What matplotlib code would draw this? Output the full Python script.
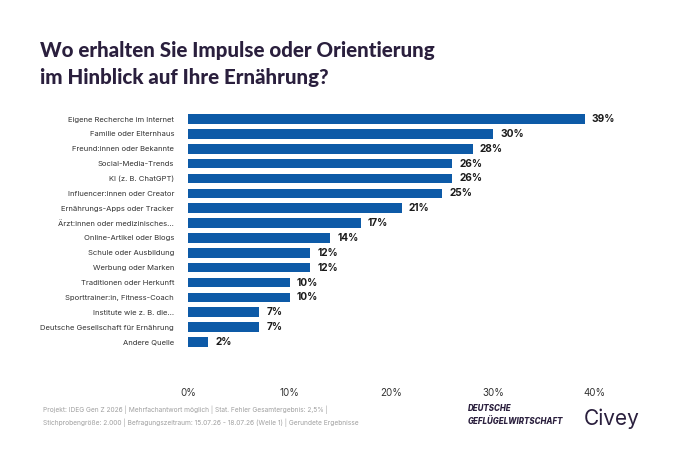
import numpy as np
import matplotlib.pyplot as plt

plt.rcParams['font.family'] = ['Inter', 'DejaVu Sans']

categories = ['Eigene Recherche im Internet', 'Familie oder Elternhaus',
              'Freund:innen oder Bekannte', 'Social-Media-Trends',
              'KI (z. B. ChatGPT)', 'Influencer:innen oder Creator',
              'Ernährungs-Apps oder Tracker', 'Ärzt:innen oder medizinisches...',
              'Online-Artikel oder Blogs', 'Schule oder Ausbildung',
              'Werbung oder Marken', 'Traditionen oder Herkunft',
              'Sporttrainer:in, Fitness-Coach', 'Institute wie z. B. die...',
              'Deutsche Gesellschaft für Ernährung', 'Andere Quelle']
values = [39, 30, 28, 26, 26, 25, 21, 17, 14, 12, 12, 10, 10, 7, 7, 2]
xticks = [0, 10, 20, 30, 40]

bar_color = '#0d5aa7'
text_dark = '#2a1f3d'

fig = plt.figure(figsize=(6.76, 4.5), dpi=100)
ax = fig.add_axes([0.278, 0.2236, 0.602, 0.5284])

y = np.arange(len(categories))
ax.barh(y, values, height=0.64, color=bar_color)
for yi, v in zip(y, values):
    ax.text(v + 0.7, yi, f'{v}%', va='center', ha='left', fontsize=7.3,
            fontweight='bold', color='#1a1a1a')

ax.set_ylim(len(categories) - 0.5, -0.5)
ax.set_xlim(0, 40)
ax.set_yticks(y)
ax.set_yticklabels(categories, fontsize=5.5, color='#333333')
ax.set_xticks(xticks)
ax.set_xticklabels([f'{t}%' for t in xticks], fontsize=7, color='#333333')
ax.tick_params(axis='y', length=0, pad=10)
ax.tick_params(axis='x', length=0, pad=28)
for s in ax.spines.values():
    s.set_visible(False)

title_font = ['Lato', 'DejaVu Sans']
fig.text(0.059, 0.887, 'Wo erhalten Sie Impulse oder Orientierung', fontsize=14.8,
         fontweight='black', color=text_dark, va='center', family=title_font)
fig.text(0.059, 0.827, 'im Hinblick auf Ihre Ernährung?', fontsize=14.8,
         fontweight='black', color=text_dark, va='center', family=title_font)

fig.text(0.063, 0.089,
         'Projekt: IDEG Gen Z 2026 | Mehrfachantwort möglich | Stat. Fehler Gesamtergebnis: 2,5% |',
         fontsize=4.75, color='#a0a0a0', va='center')
fig.text(0.063, 0.061,
         'Stichprobengröße: 2.000 | Befragungszeitraum: 15.07.26 - 18.07.26 (Welle 1) | Gerundete Ergebnisse',
         fontsize=4.75, color='#a0a0a0', va='center')

fig.text(0.692, 0.092, 'DEUTSCHE', fontsize=5.7, fontweight='heavy', style='italic',
         color=text_dark, va='center')
fig.text(0.692, 0.063, 'GEFLÜGELWIRTSCHAFT', fontsize=5.7, fontweight='heavy', style='italic',
         color=text_dark, va='center')
fig.text(0.864, 0.070, 'Civey', fontsize=15, color=text_dark, va='center')

fig.savefig('out.png', dpi=100, facecolor='white')
